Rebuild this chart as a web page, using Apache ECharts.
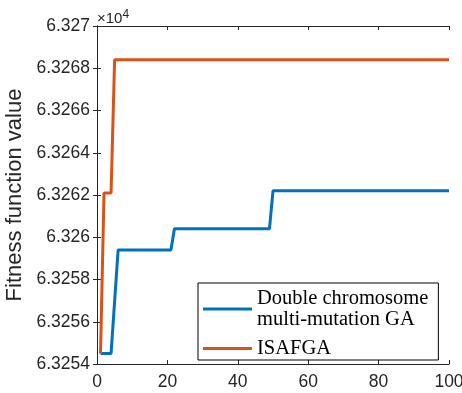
<!DOCTYPE html>
<html>
<head>
<meta charset="utf-8">
<script src="https://cdn.jsdelivr.net/npm/echarts@6/dist/echarts.min.js"></script>
<style>html,body{margin:0;padding:0;background:#fff}#c{width:462px;height:393px}</style>
</head>
<body>
<div id="c"></div>
<script>
// Data (fitness values in original units; axis shows ×10^4)
const blueX = [1, 4, 6, 21, 22, 49, 50, 100];
const blueY = [63254.5, 63254.5, 63259.4, 63259.4, 63260.4, 63260.4, 63262.2, 63262.2];
const orangeX = [1, 2, 4, 5, 100];
const orangeY = [63254.5, 63262.1, 63262.1, 63268.4, 63268.4];
const seriesNames = ['Double chromosome\nmulti-mutation GA', 'ISAFGA'];
const xTicks = [0, 20, 40, 60, 80, 100];
const yTickLabels = ['6.3254','6.3256','6.3258','6.326','6.3262','6.3264','6.3266','6.3268','6.327'];

const axisColor = '#262626';
const fontFam = '"Liberation Sans", Arial, Helvetica, sans-serif';
const zip = (xs, ys) => xs.map((x, i) => [x, ys[i]]);

const chart = echarts.init(document.getElementById('c'), null, {renderer: 'canvas'});
const commonAxis = {
  axisLine: {show: true, lineStyle: {color: axisColor, width: 1}},
  axisTick: {show: true, inside: true, length: 4, lineStyle: {color: axisColor}},
  splitLine: {show: false}
};
chart.setOption({
  animation: false,
  grid: {left: 97, right: 13, top: 26, bottom: 29, containLabel: false, outerBoundsMode: 'none'},
  xAxis: [
    Object.assign({}, commonAxis, {
      type: 'value', min: 0, max: 100, interval: 20, position: 'bottom',
      axisLabel: {color: axisColor, fontSize: 17.5, fontFamily: fontFam, margin: 9,
        formatter: v => xTicks.indexOf(v) >= 0 ? String(v) : ''}
    }),
    Object.assign({}, commonAxis, {
      type: 'value', min: 0, max: 100, interval: 20, position: 'top',
      axisLabel: {show: false}
    })
  ],
  yAxis: [
    Object.assign({}, commonAxis, {
      type: 'value', min: 63254, max: 63270, interval: 2, position: 'left',
      name: 'Fitness function value', nameLocation: 'middle', nameGap: 63,
      nameTextStyle: {color: axisColor, fontSize: 22, fontFamily: fontFam},
      axisLabel: {color: axisColor, fontSize: 17.5, fontFamily: fontFam, margin: 7,
        formatter: v => yTickLabels[Math.round((v - 63254) / 2)] || ''}
    }),
    Object.assign({}, commonAxis, {
      type: 'value', min: 63254, max: 63270, interval: 2, position: 'right',
      axisLabel: {show: false}
    })
  ],
  legend: {
    orient: 'vertical', left: 198, top: 283,
    data: seriesNames,
    icon: 'rect', itemWidth: 49, itemHeight: 3, itemGap: 8,
    padding: [5, 10, 1, 5],
    borderColor: '#000', borderWidth: 1, backgroundColor: '#fff',
    textStyle: {color: '#000', fontSize: 20.5, fontFamily: '"Liberation Serif", "Times New Roman", serif', lineHeight: 21, padding: [0, 0, 0, 0]},
    selectedMode: false
  },
  graphic: [{
    type: 'text', left: 97, top: 9,
    style: {
      text: '×10{s|4}',
      fill: axisColor, fontSize: 15, fontFamily: fontFam,
      rich: {s: {fontSize: 12, verticalAlign: 'top', padding: [0, 0, 8, 0], fill: axisColor, fontFamily: fontFam}}
    }
  }],
  series: [
    {name: seriesNames[0], type: 'line', data: zip(blueX, blueY), symbol: 'none',
      lineStyle: {color: '#0072BD', width: 3}, itemStyle: {color: '#0072BD'}},
    {name: seriesNames[1], type: 'line', data: zip(orangeX, orangeY), symbol: 'none',
      lineStyle: {color: '#D95319', width: 3}, itemStyle: {color: '#D95319'}}
  ]
});
</script>
</body>
</html>
